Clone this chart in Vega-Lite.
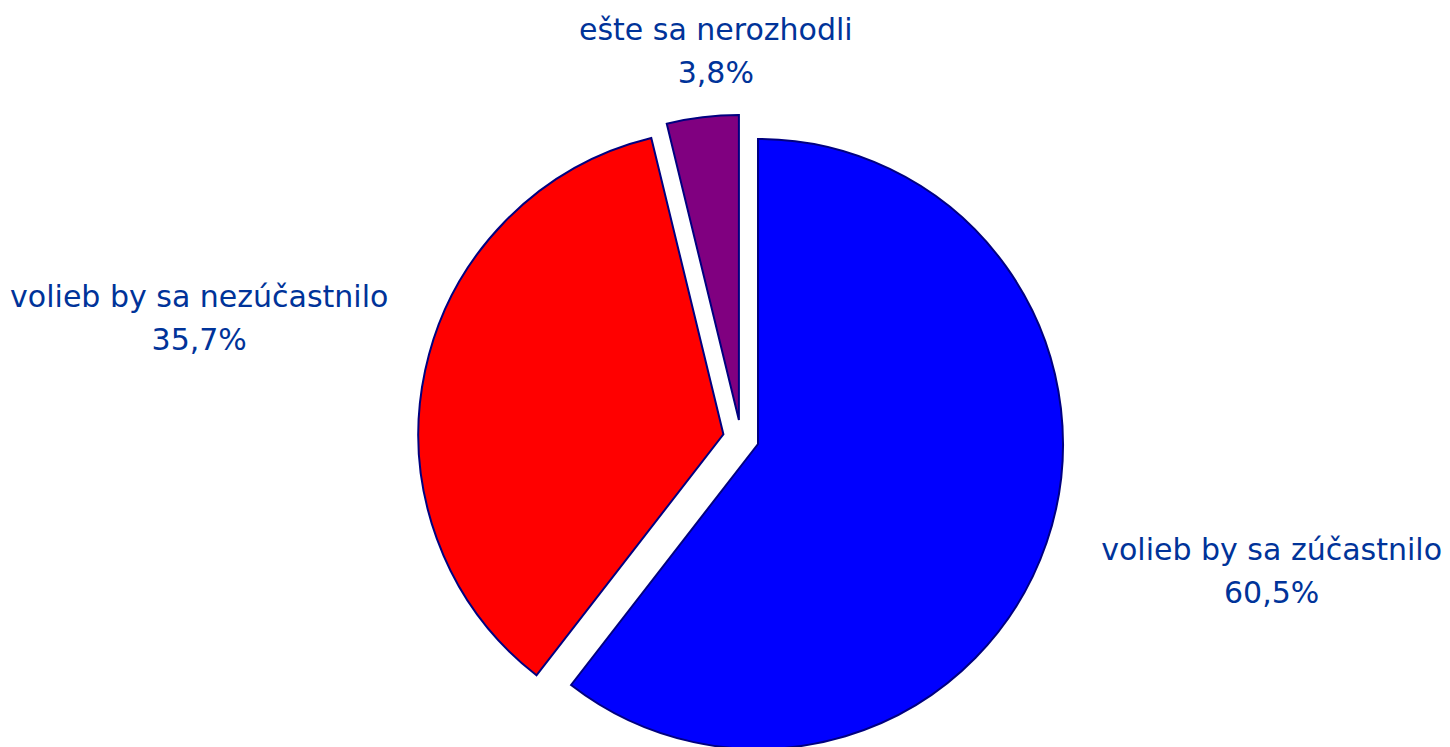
{
  "$schema": "https://vega.github.io/schema/vega-lite/v6.json",
  "width": 1418,
  "height": 618,
  "autosize": {"type": "none"},
  "padding": {"left": 32, "top": 129, "right": 0, "bottom": 0},
  "background": "white",
  "config": {"view": {"stroke": null}},
  "data": {
    "values": [
      {"kategoria": "volieb by sa zúčastnilo", "podiel": 60.5, "poradie": 1, "stitok": ["volieb by sa zúčastnilo", "60,5%"]},
      {"kategoria": "volieb by sa nezúčastnilo", "podiel": 35.7, "poradie": 2, "stitok": ["volieb by sa nezúčastnilo", "35,7%"]},
      {"kategoria": "ešte sa nerozhodli", "podiel": 3.8, "poradie": 3, "stitok": ["ešte sa nerozhodli", "3,8%"]}
    ]
  },
  "transform": [
    {"stack": "podiel", "groupby": [], "sort": [{"field": "poradie", "order": "ascending"}], "as": ["zac", "kon"]}
  ],
  "layer": [
    {
      "transform": [{"filter": "datum.poradie === 1"}],
      "mark": {"type": "arc", "outerRadius": 305, "stroke": "#000080", "strokeWidth": 2, "xOffset": 17, "yOffset": 6},
      "encoding": {
        "theta": {"field": "zac", "type": "quantitative", "scale": {"domain": [0, 100]}},
        "theta2": {"field": "kon"},
        "color": {"field": "kategoria", "type": "nominal", "scale": {"domain": ["volieb by sa zúčastnilo", "volieb by sa nezúčastnilo", "ešte sa nerozhodli"], "range": ["#0000FF", "#FF0000", "#800080"]}, "legend": null}
      }
    },
    {
      "transform": [{"filter": "datum.poradie === 2"}],
      "mark": {"type": "arc", "outerRadius": 305, "stroke": "#000080", "strokeWidth": 2, "xOffset": -17.6, "yOffset": -3.7},
      "encoding": {
        "theta": {"field": "zac", "type": "quantitative", "scale": {"domain": [0, 100]}},
        "theta2": {"field": "kon"},
        "color": {"field": "kategoria", "type": "nominal", "scale": {"domain": ["volieb by sa zúčastnilo", "volieb by sa nezúčastnilo", "ešte sa nerozhodli"], "range": ["#0000FF", "#FF0000", "#800080"]}, "legend": null}
      }
    },
    {
      "transform": [{"filter": "datum.poradie === 3"}],
      "mark": {"type": "arc", "outerRadius": 305, "stroke": "#000080", "strokeWidth": 2, "xOffset": -2.1, "yOffset": -17.9},
      "encoding": {
        "theta": {"field": "zac", "type": "quantitative", "scale": {"domain": [0, 100]}},
        "theta2": {"field": "kon"},
        "color": {"field": "kategoria", "type": "nominal", "scale": {"domain": ["volieb by sa zúčastnilo", "volieb by sa nezúčastnilo", "ešte sa nerozhodli"], "range": ["#0000FF", "#FF0000", "#800080"]}, "legend": null}
      }
    },
    {
      "mark": {"type": "text", "radius": 545, "xOffset": 15, "yOffset": -64, "font": "DejaVu Sans", "fontSize": 30, "lineHeight": 43, "color": "#003399", "align": "center", "baseline": "middle"},
      "encoding": {
        "theta": {"field": "podiel", "type": "quantitative", "stack": true, "scale": {"domain": [0, 100]}},
        "order": {"field": "poradie", "type": "quantitative"},
        "detail": {"field": "kategoria", "type": "nominal"},
        "text": {"condition": {"test": "datum.poradie === 1", "field": "stitok", "type": "nominal"}, "value": ""}
      }
    },
    {
      "mark": {"type": "text", "radius": 554, "xOffset": 0, "yOffset": -24, "font": "DejaVu Sans", "fontSize": 30, "lineHeight": 43, "color": "#003399", "align": "center", "baseline": "middle"},
      "encoding": {
        "theta": {"field": "podiel", "type": "quantitative", "stack": true, "scale": {"domain": [0, 100]}},
        "order": {"field": "poradie", "type": "quantitative"},
        "detail": {"field": "kategoria", "type": "nominal"},
        "text": {"condition": {"test": "datum.poradie === 2", "field": "stitok", "type": "nominal"}, "value": ""}
      }
    },
    {
      "mark": {"type": "text", "radius": 388, "xOffset": 21, "yOffset": -22, "font": "DejaVu Sans", "fontSize": 30, "lineHeight": 43, "color": "#003399", "align": "center", "baseline": "middle"},
      "encoding": {
        "theta": {"field": "podiel", "type": "quantitative", "stack": true, "scale": {"domain": [0, 100]}},
        "order": {"field": "poradie", "type": "quantitative"},
        "detail": {"field": "kategoria", "type": "nominal"},
        "text": {"condition": {"test": "datum.poradie === 3", "field": "stitok", "type": "nominal"}, "value": ""}
      }
    }
  ]
}
